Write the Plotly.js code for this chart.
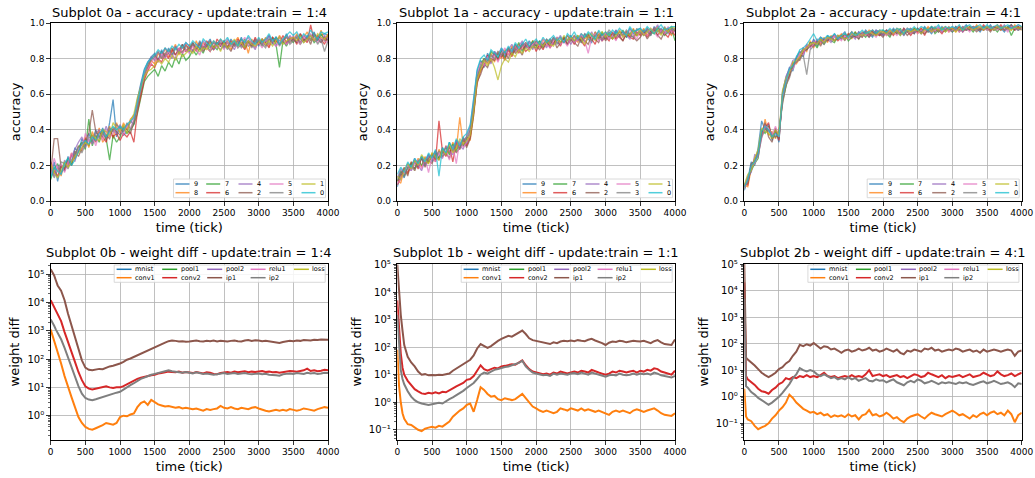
<!DOCTYPE html>
<html>
<head>
<meta charset="utf-8">
<script src="https://cdn.plot.ly/plotly-3.0.1.min.js"></script>
<style>html,body{margin:0;padding:0;background:#fff}#chart{width:1035px;height:478px}</style>
</head>
<body>
<div id="chart"></div>
<script>
// ---------------- DATA ----------------
const TICKS_TOP = [0,50,100,150,200,250,300,350,400,450,500,550,600,650,700,750,800,850,900,950,1000,1050,1100,1150,1200,1250,1300,1350,1400,1450,1500,1550,1600,1650,1700,1750,1800,1850,1900,1950,2000,2050,2100,2150,2200,2250,2300,2350,2400,2450,2500,2550,2600,2650,2700,2750,2800,2850,2900,2950,3000,3050,3100,3150,3200,3250,3300,3350,3400,3450,3500,3550,3600,3650,3700,3750,3800,3850,3900,3950,4000];
const TICKS_BOTTOM = [0,25,50,75,100,150,200,250,300,350,400,450,500,550,600,650,700,750,800,850,900,950,1000,1050,1100,1150,1200,1250,1300,1350,1400,1450,1500,1550,1600,1650,1700,1750,1800,1850,1900,1950,2000,2050,2100,2150,2200,2250,2300,2350,2400,2450,2500,2550,2600,2650,2700,2750,2800,2850,2900,2950,3000,3050,3100,3150,3200,3250,3300,3350,3400,3450,3500,3550,3600,3650,3700,3750,3800,3850,3900,3950,4000];
const X_TICK_LABELS = [0,500,1000,1500,2000,2500,3000,3500,4000];
const ACC_TICK_LABELS = [0,0.2,0.4,0.6,0.8,1.0];
const DIGITS = ['9','8','7','6','4','2','5','3','1','0'];
const LAYERS = ['mnist','conv1','pool1','conv2','pool2','ip1','relu1','ip2','loss'];
const TITLES_TOP = ['Subplot 0a - accuracy - update:train = 1:4','Subplot 1a - accuracy - update:train = 1:1','Subplot 2a - accuracy - update:train = 4:1'];
const TITLES_BOTTOM = ['Subplot 0b - weight diff - update:train = 1:4','Subplot 1b - weight diff - update:train = 1:1','Subplot 2b - weight diff - update:train = 4:1'];

// Subplot 0a accuracy (update:train = 1:4)
const acc0a_9 = [0.14,0.22,0.11,0.20,0.17,0.25,0.21,0.30,0.27,0.35,
0.31,0.38,0.33,0.40,0.35,0.41,0.34,0.44,0.57,0.36,
0.42,0.37,0.39,0.45,0.43,0.57,0.66,0.74,0.78,0.81,
0.83,0.79,0.85,0.80,0.86,0.82,0.87,0.83,0.88,0.85,
0.84,0.89,0.85,0.90,0.86,0.88,0.91,0.85,0.89,0.87,
0.90,0.86,0.91,0.88,0.87,0.92,0.86,0.90,0.88,0.91,
0.87,0.91,0.89,0.93,0.88,0.92,0.90,0.89,0.94,0.90,
0.92,0.89,0.94,0.90,0.93,0.91,0.95,0.90,0.93,0.94,
0.93];
const acc0a_8 = [0.20,0.15,0.19,0.14,0.22,0.19,0.27,0.23,0.31,0.28,
0.36,0.30,0.39,0.34,0.41,0.33,0.36,0.42,0.35,0.44,
0.38,0.44,0.40,0.46,0.48,0.52,0.61,0.69,0.74,0.79,
0.77,0.83,0.80,0.86,0.81,0.84,0.88,0.82,0.87,0.84,
0.88,0.84,0.90,0.85,0.89,0.86,0.84,0.90,0.87,0.91,
0.87,0.90,0.85,0.89,0.92,0.87,0.90,0.83,0.91,0.88,
0.91,0.88,0.92,0.87,0.91,0.89,0.93,0.90,0.88,0.92,
0.90,0.94,0.89,0.92,0.95,0.90,0.93,0.91,0.96,0.90,
0.94];
const acc0a_7 = [0.12,0.18,0.21,0.16,0.19,0.24,0.20,0.26,0.30,0.33,
0.29,0.46,0.31,0.37,0.33,0.39,0.35,0.23,0.37,0.33,
0.36,0.41,0.38,0.40,0.43,0.49,0.58,0.67,0.70,0.72,
0.74,0.70,0.76,0.73,0.78,0.75,0.81,0.77,0.83,0.79,
0.81,0.85,0.82,0.86,0.83,0.88,0.84,0.87,0.85,0.89,
0.86,0.89,0.87,0.90,0.86,0.88,0.91,0.87,0.89,0.86,
0.90,0.87,0.91,0.88,0.92,0.88,0.75,0.90,0.87,0.91,
0.89,0.92,0.88,0.91,0.90,0.93,0.89,0.91,0.94,0.90,
0.91];
const acc0a_6 = [0.22,0.17,0.14,0.20,0.18,0.21,0.26,0.24,0.28,0.32,
0.35,0.31,0.37,0.33,0.39,0.36,0.33,0.40,0.36,0.38,
0.34,0.38,0.36,0.39,0.33,0.50,0.60,0.68,0.73,0.77,
0.75,0.80,0.78,0.83,0.80,0.85,0.82,0.86,0.83,0.88,
0.85,0.88,0.84,0.89,0.86,0.90,0.87,0.85,0.91,0.88,
0.89,0.86,0.90,0.87,0.91,0.88,0.85,0.90,0.87,0.92,
0.88,0.91,0.89,0.86,0.92,0.90,0.88,0.93,0.89,0.91,
0.92,0.88,0.94,0.91,0.89,0.99,0.90,0.93,0.91,0.88,
0.93];
const acc0a_4 = [0.18,0.14,0.20,0.15,0.23,0.20,0.25,0.29,0.33,0.36,
0.30,0.35,0.32,0.38,0.40,0.36,0.42,0.37,0.40,0.38,
0.43,0.39,0.42,0.44,0.47,0.56,0.65,0.72,0.77,0.81,
0.79,0.84,0.81,0.86,0.83,0.80,0.87,0.84,0.86,0.89,
0.87,0.84,0.88,0.86,0.90,0.87,0.89,0.85,0.88,0.90,
0.86,0.91,0.88,0.85,0.90,0.87,0.89,0.92,0.88,0.85,
0.91,0.88,0.90,0.93,0.89,0.87,0.92,0.90,0.88,0.93,
0.90,0.92,0.89,0.93,0.91,0.94,0.90,0.92,0.89,0.93,
0.91];
const acc0a_2 = [0.16,0.35,0.35,0.19,0.17,0.23,0.20,0.28,0.25,0.30,
0.34,0.38,0.51,0.39,0.36,0.40,0.37,0.35,0.41,0.39,
0.37,0.42,0.40,0.38,0.44,0.53,0.62,0.70,0.75,0.80,
0.82,0.78,0.84,0.81,0.83,0.86,0.82,0.85,0.88,0.84,
0.86,0.89,0.85,0.88,0.84,0.87,0.90,0.86,0.89,0.87,
0.90,0.87,0.84,0.89,0.88,0.91,0.86,0.89,0.87,0.90,
0.88,0.90,0.87,0.91,0.89,0.92,0.88,0.90,0.92,0.89,
0.91,0.89,0.93,0.90,0.92,0.88,0.94,0.91,0.89,0.92,
0.90];
const acc0a_5 = [0.15,0.24,0.18,0.21,0.16,0.22,0.27,0.22,0.30,0.29,
0.38,0.33,0.36,0.31,0.38,0.34,0.40,0.36,0.38,0.42,
0.40,0.37,0.43,0.41,0.46,0.55,0.63,0.70,0.74,0.77,
0.81,0.78,0.83,0.80,0.84,0.82,0.80,0.86,0.83,0.85,
0.83,0.87,0.85,0.82,0.88,0.86,0.84,0.89,0.86,0.88,
0.85,0.89,0.87,0.90,0.86,0.89,0.92,0.87,0.90,0.86,
0.89,0.86,0.91,0.88,0.90,0.87,0.89,0.91,0.88,0.90,
0.93,0.90,0.88,0.92,0.90,0.93,0.91,0.89,0.92,0.90,
0.89];
const acc0a_3 = [0.19,0.13,0.17,0.22,0.21,0.18,0.23,0.26,0.31,0.27,
0.32,0.36,0.34,0.39,0.36,0.38,0.35,0.41,0.39,0.43,
0.41,0.39,0.44,0.40,0.45,0.52,0.64,0.71,0.77,0.79,
0.81,0.84,0.80,0.83,0.85,0.82,0.86,0.83,0.84,0.87,
0.85,0.88,0.86,0.89,0.85,0.88,0.86,0.89,0.87,0.85,
0.88,0.85,0.89,0.87,0.90,0.86,0.88,0.90,0.86,0.89,
0.90,0.88,0.86,0.91,0.89,0.92,0.87,0.90,0.93,0.88,
0.90,0.93,0.91,0.89,0.92,0.90,0.93,0.88,0.91,0.84,
0.90];
const acc0a_1 = [0.21,0.16,0.13,0.17,0.22,0.19,0.22,0.25,0.27,0.30,
0.33,0.31,0.37,0.35,0.34,0.40,0.39,0.36,0.44,0.41,
0.39,0.43,0.38,0.45,0.49,0.58,0.64,0.70,0.73,0.74,
0.76,0.79,0.77,0.80,0.78,0.82,0.79,0.84,0.81,0.83,
0.85,0.83,0.87,0.84,0.86,0.85,0.89,0.86,0.88,0.84,
0.89,0.86,0.88,0.91,0.87,0.89,0.86,0.90,0.88,0.87,
0.89,0.91,0.88,0.90,0.87,0.90,0.92,0.88,0.90,0.91,
0.92,0.90,0.93,0.89,0.91,0.93,0.90,0.94,0.92,0.91,
0.93];
const acc0a_0 = [0.13,0.19,0.17,0.15,0.21,0.24,0.20,0.23,0.28,0.32,
0.34,0.32,0.36,0.34,0.38,0.40,0.36,0.39,0.42,0.40,
0.42,0.40,0.43,0.45,0.47,0.55,0.64,0.73,0.78,0.80,
0.82,0.85,0.83,0.86,0.84,0.87,0.85,0.88,0.86,0.89,
0.87,0.90,0.88,0.86,0.91,0.89,0.87,0.90,0.88,0.91,
0.89,0.92,0.88,0.90,0.87,0.91,0.89,0.93,0.90,0.88,
0.92,0.89,0.91,0.94,0.90,0.92,0.88,0.91,0.93,0.95,
0.93,0.95,0.91,0.94,0.92,0.96,0.93,0.91,0.95,0.94,
0.95];

// Subplot 1a accuracy (update:train = 1:1)
const acc1a_9 = [0.08,0.16,0.13,0.20,0.17,0.22,0.19,0.24,0.20,0.26,
0.22,0.27,0.24,0.30,0.26,0.33,0.28,0.34,0.30,0.36,
0.32,0.40,0.55,0.73,0.79,0.75,0.83,0.79,0.84,0.80,
0.85,0.81,0.86,0.83,0.88,0.84,0.89,0.86,0.90,0.87,
0.86,0.90,0.87,0.91,0.88,0.92,0.89,0.88,0.92,0.90,
0.93,0.89,0.92,0.90,0.94,0.91,0.89,0.95,0.92,0.94,
0.91,0.95,0.92,0.96,0.93,0.95,0.92,0.97,0.94,0.96,
0.97,0.94,0.96,0.93,0.98,0.95,0.97,0.94,0.96,0.98,
0.95];
const acc1a_8 = [0.12,0.10,0.18,0.15,0.22,0.17,0.24,0.19,0.25,0.21,
0.27,0.23,0.29,0.25,0.31,0.27,0.33,0.29,0.47,0.31,
0.36,0.34,0.49,0.68,0.74,0.80,0.77,0.83,0.78,0.84,
0.80,0.85,0.82,0.87,0.84,0.88,0.85,0.89,0.86,0.90,
0.89,0.86,0.91,0.87,0.90,0.88,0.91,0.92,0.89,0.93,
0.90,0.93,0.89,0.94,0.91,0.93,0.90,0.95,0.92,0.91,
0.95,0.92,0.94,0.91,0.96,0.93,0.95,0.92,0.97,0.93,
0.94,0.97,0.93,0.96,0.95,0.98,0.94,0.97,0.95,0.93,
0.97];
const acc1a_7 = [0.11,0.17,0.14,0.19,0.21,0.18,0.23,0.20,0.24,0.22,
0.25,0.28,0.24,0.27,0.30,0.26,0.32,0.28,0.33,0.31,
0.35,0.38,0.51,0.69,0.77,0.80,0.79,0.84,0.82,0.80,
0.84,0.80,0.86,0.82,0.85,0.89,0.84,0.88,0.85,0.90,
0.87,0.90,0.86,0.89,0.91,0.88,0.92,0.89,0.91,0.88,
0.92,0.90,0.93,0.89,0.92,0.94,0.90,0.93,0.91,0.95,
0.92,0.94,0.91,0.95,0.93,0.96,0.92,0.94,0.96,0.93,
0.96,0.93,0.97,0.95,0.94,0.97,0.96,0.93,0.95,0.97,
0.90];
const acc1a_6 = [0.09,0.13,0.18,0.16,0.20,0.23,0.18,0.25,0.21,0.24,
0.26,0.22,0.45,0.28,0.25,0.31,0.22,0.33,0.29,0.35,
0.31,0.36,0.50,0.66,0.73,0.76,0.82,0.78,0.83,0.79,
0.83,0.79,0.85,0.81,0.87,0.83,0.88,0.84,0.86,0.89,
0.84,0.88,0.85,0.90,0.86,0.89,0.91,0.87,0.92,0.88,
0.91,0.88,0.92,0.90,0.87,0.93,0.91,0.88,0.94,0.90,
0.92,0.90,0.95,0.91,0.93,0.90,0.94,0.92,0.91,0.95,
0.93,0.96,0.92,0.95,0.97,0.93,0.96,0.94,0.92,0.96,
0.93];
const acc1a_4 = [0.13,0.18,0.15,0.21,0.18,0.24,0.20,0.17,0.23,0.26,
0.23,0.28,0.26,0.24,0.31,0.28,0.26,0.34,0.31,0.29,
0.37,0.42,0.57,0.72,0.75,0.79,0.81,0.77,0.84,0.82,
0.86,0.82,0.85,0.88,0.84,0.87,0.90,0.86,0.89,0.85,
0.90,0.87,0.89,0.86,0.91,0.88,0.90,0.93,0.89,0.91,
0.88,0.92,0.90,0.93,0.89,0.92,0.95,0.91,0.93,0.90,
0.94,0.91,0.93,0.96,0.92,0.95,0.93,0.91,0.96,0.94,
0.95,0.93,0.97,0.94,0.96,0.99,0.95,0.97,0.94,0.96,
0.97];
const acc1a_2 = [0.11,0.15,0.19,0.14,0.22,0.18,0.21,0.24,0.19,0.23,
0.21,0.26,0.23,0.29,0.27,0.24,0.31,0.27,0.30,0.34,
0.30,0.35,0.48,0.67,0.71,0.77,0.75,0.80,0.79,0.83,
0.81,0.84,0.80,0.86,0.83,0.85,0.82,0.88,0.86,0.89,
0.87,0.85,0.88,0.90,0.87,0.91,0.86,0.89,0.92,0.88,
0.91,0.89,0.87,0.92,0.90,0.88,0.93,0.91,0.89,0.94,
0.90,0.93,0.91,0.94,0.92,0.90,0.95,0.93,0.92,0.90,
0.92,0.95,0.91,0.94,0.96,0.93,0.91,0.95,0.97,0.94,
0.96];
const acc1a_5 = [0.10,0.12,0.16,0.20,0.17,0.21,0.23,0.18,0.24,0.16,
0.25,0.22,0.27,0.24,0.29,0.23,0.31,0.21,0.34,0.30,
0.33,0.39,0.54,0.71,0.78,0.76,0.81,0.79,0.82,0.78,
0.83,0.86,0.82,0.85,0.87,0.84,0.86,0.89,0.85,0.88,
0.89,0.87,0.91,0.88,0.86,0.90,0.92,0.88,0.90,0.87,
0.92,0.89,0.91,0.94,0.90,0.83,0.92,0.94,0.90,0.92,
0.94,0.91,0.93,0.90,0.95,0.92,0.94,0.96,0.93,0.91,
0.96,0.94,0.93,0.97,0.95,0.92,0.96,0.94,0.98,0.95,
0.95];
const acc1a_3 = [0.12,0.16,0.14,0.18,0.20,0.17,0.22,0.25,0.20,0.24,
0.26,0.24,0.28,0.25,0.27,0.30,0.28,0.32,0.29,0.34,
0.36,0.40,0.53,0.70,0.75,0.79,0.78,0.82,0.80,0.84,
0.82,0.84,0.86,0.83,0.88,0.85,0.87,0.89,0.87,0.86,
0.90,0.88,0.87,0.91,0.89,0.92,0.88,0.91,0.89,0.93,
0.90,0.93,0.91,0.89,0.94,0.92,0.90,0.93,0.95,0.91,
0.93,0.96,0.94,0.92,0.95,0.93,0.96,0.94,0.92,0.97,
0.94,0.96,0.95,0.93,0.97,0.96,0.94,0.98,0.95,0.97,
0.96];
const acc1a_1 = [0.14,0.12,0.17,0.21,0.18,0.23,0.20,0.26,0.23,0.21,
0.27,0.25,0.23,0.29,0.26,0.32,0.27,0.30,0.35,0.32,
0.34,0.37,0.50,0.68,0.74,0.79,0.76,0.80,0.75,0.68,
0.76,0.80,0.78,0.83,0.81,0.85,0.83,0.86,0.84,0.87,
0.86,0.89,0.87,0.90,0.88,0.87,0.91,0.89,0.93,0.90,
0.92,0.90,0.93,0.91,0.88,0.92,0.94,0.90,0.93,0.95,
0.92,0.94,0.91,0.93,0.95,0.92,0.94,0.93,0.96,0.93,
0.96,0.93,0.95,0.97,0.94,0.96,0.93,0.97,0.95,0.98,
0.97];
const acc1a_0 = [0.15,0.19,0.16,0.22,0.19,0.24,0.21,0.25,0.22,0.27,
0.24,0.29,0.14,0.30,0.27,0.33,0.29,0.35,0.31,0.36,
0.38,0.43,0.58,0.74,0.80,0.82,0.79,0.85,0.83,0.81,
0.86,0.83,0.87,0.84,0.89,0.86,0.88,0.91,0.87,0.89,
0.91,0.88,0.92,0.89,0.91,0.93,0.90,0.92,0.89,0.94,
0.92,0.95,0.91,0.94,0.92,0.95,0.93,0.91,0.96,0.93,
0.95,0.93,0.96,0.94,0.97,0.95,0.93,0.98,0.95,0.96,
0.97,0.95,0.98,0.96,0.94,0.97,0.99,0.96,0.97,0.98,
0.98];

// Subplot 2a accuracy (update:train = 4:1)
const acc2a_9 = [0.06,0.12,0.22,0.20,0.30,0.45,0.40,0.43,0.34,0.40,
0.33,0.61,0.69,0.75,0.73,0.81,0.84,0.81,0.88,0.86,
0.91,0.87,0.92,0.89,0.93,0.90,0.94,0.91,0.93,0.95,
0.91,0.94,0.92,0.95,0.93,0.96,0.94,0.92,0.96,0.95,
0.93,0.96,0.94,0.97,0.95,0.93,0.97,0.95,0.96,0.94,
0.97,0.95,0.98,0.96,0.94,0.97,0.95,0.98,0.96,0.97,
0.95,0.98,0.96,0.97,0.99,0.96,0.98,0.97,0.95,0.98,
0.97,0.99,0.96,0.98,0.97,0.95,0.98,0.99,0.97,0.96,
0.98];
const acc2a_8 = [0.09,0.08,0.18,0.24,0.28,0.36,0.46,0.37,0.39,0.35,
0.40,0.55,0.65,0.70,0.78,0.77,0.80,0.86,0.84,0.90,
0.86,0.91,0.88,0.92,0.89,0.93,0.90,0.92,0.94,0.91,
0.94,0.91,0.95,0.92,0.94,0.93,0.96,0.95,0.93,0.96,
0.95,0.93,0.96,0.94,0.97,0.96,0.94,0.97,0.95,0.97,
0.94,0.97,0.95,0.98,0.96,0.97,0.95,0.97,0.98,0.95,
0.97,0.95,0.98,0.96,0.97,0.98,0.96,0.99,0.97,0.96,
0.98,0.96,0.97,0.99,0.96,0.98,0.97,0.96,0.99,0.97,
0.96];
const acc2a_7 = [0.07,0.13,0.17,0.21,0.24,0.40,0.38,0.42,0.37,0.36,
0.38,0.56,0.64,0.73,0.75,0.80,0.83,0.85,0.85,0.89,
0.89,0.86,0.91,0.88,0.92,0.90,0.89,0.93,0.91,0.94,
0.90,0.92,0.95,0.91,0.94,0.92,0.95,0.93,0.95,0.93,
0.96,0.94,0.92,0.96,0.94,0.97,0.93,0.96,0.94,0.97,
0.96,0.94,0.97,0.95,0.98,0.94,0.96,0.97,0.95,0.97,
0.95,0.97,0.96,0.98,0.96,0.97,0.95,0.98,0.96,0.98,
0.96,0.98,0.97,0.95,0.98,0.96,0.98,0.93,0.97,0.98,
0.96];
const acc2a_6 = [0.10,0.09,0.20,0.23,0.27,0.37,0.41,0.44,0.35,0.39,
0.34,0.59,0.68,0.70,0.77,0.78,0.81,0.83,0.87,0.87,
0.87,0.90,0.89,0.91,0.90,0.92,0.93,0.90,0.92,0.93,
0.93,0.95,0.92,0.94,0.92,0.95,0.93,0.96,0.94,0.93,
0.94,0.96,0.95,0.93,0.96,0.94,0.97,0.95,0.93,0.96,
0.95,0.97,0.93,0.97,0.95,0.97,0.96,0.94,0.97,0.96,
0.97,0.96,0.98,0.95,0.97,0.96,0.98,0.97,0.96,0.99,
0.97,0.96,0.98,0.97,0.99,0.96,0.97,0.98,0.96,0.98,
0.97];
const acc2a_4 = [0.08,0.14,0.16,0.26,0.25,0.39,0.43,0.39,0.38,0.37,
0.37,0.60,0.70,0.74,0.79,0.80,0.82,0.86,0.85,0.88,
0.90,0.88,0.92,0.90,0.91,0.89,0.92,0.93,0.91,0.92,
0.92,0.93,0.91,0.95,0.93,0.95,0.92,0.94,0.96,0.94,
0.93,0.95,0.96,0.94,0.96,0.95,0.93,0.96,0.97,0.95,
0.96,0.94,0.97,0.95,0.97,0.96,0.98,0.95,0.97,0.96,
0.98,0.96,0.97,0.95,0.98,0.97,0.96,0.98,0.97,0.96,
0.98,0.97,0.96,0.98,0.97,0.99,0.96,0.98,0.97,0.99,
0.98];
const acc2a_2 = [0.09,0.10,0.21,0.22,0.27,0.38,0.44,0.36,0.33,0.41,
0.35,0.57,0.66,0.71,0.75,0.80,0.79,0.84,0.85,0.87,
0.88,0.90,0.87,0.91,0.90,0.92,0.90,0.91,0.93,0.90,
0.94,0.92,0.93,0.91,0.95,0.94,0.92,0.95,0.93,0.94,
0.92,0.95,0.93,0.96,0.94,0.95,0.96,0.93,0.95,0.94,
0.97,0.95,0.94,0.96,0.98,0.95,0.97,0.95,0.96,0.98,
0.96,0.98,0.95,0.97,0.96,0.98,0.97,0.95,0.97,0.96,
0.97,0.95,0.98,0.97,0.96,0.98,0.97,0.99,0.96,0.97,
0.98];
const acc2a_5 = [0.07,0.12,0.19,0.21,0.26,0.35,0.42,0.41,0.37,0.42,
0.36,0.58,0.66,0.73,0.74,0.79,0.83,0.82,0.88,0.86,
0.88,0.91,0.89,0.90,0.92,0.90,0.93,0.92,0.90,0.93,
0.91,0.94,0.93,0.92,0.94,0.93,0.95,0.94,0.92,0.95,
0.95,0.93,0.96,0.95,0.93,0.96,0.95,0.97,0.94,0.96,
0.94,0.96,0.95,0.97,0.95,0.96,0.97,0.95,0.97,0.95,
0.96,0.97,0.95,0.98,0.97,0.95,0.98,0.96,0.98,0.97,
0.96,0.98,0.97,0.96,0.98,0.97,0.95,0.98,0.97,0.96,
0.97];
const acc2a_3 = [0.08,0.11,0.18,0.23,0.25,0.36,0.40,0.40,0.37,0.36,
0.39,0.54,0.65,0.69,0.76,0.78,0.80,0.82,0.71,0.85,
0.87,0.89,0.90,0.88,0.91,0.92,0.90,0.92,0.93,0.91,
0.93,0.92,0.94,0.93,0.92,0.95,0.94,0.93,0.95,0.95,
0.94,0.95,0.94,0.96,0.95,0.94,0.96,0.95,0.97,0.95,
0.96,0.95,0.97,0.95,0.96,0.98,0.95,0.97,0.96,0.97,
0.95,0.97,0.96,0.98,0.96,0.97,0.98,0.96,0.97,0.98,
0.97,0.98,0.96,0.97,0.98,0.96,0.98,0.97,0.98,0.96,
0.97];
const acc2a_1 = [0.09,0.15,0.17,0.24,0.29,0.41,0.39,0.38,0.35,0.40,
0.37,0.62,0.69,0.72,0.78,0.79,0.81,0.85,0.86,0.88,
0.89,0.88,0.91,0.89,0.92,0.91,0.90,0.93,0.92,0.91,
0.92,0.94,0.93,0.94,0.93,0.94,0.95,0.94,0.93,0.95,
0.95,0.94,0.96,0.94,0.96,0.93,0.95,0.96,0.95,0.96,
0.96,0.94,0.96,0.97,0.95,0.97,0.96,0.97,0.95,0.97,
0.97,0.95,0.97,0.96,0.98,0.97,0.96,0.97,0.98,0.96,
0.98,0.97,0.96,0.98,0.97,0.98,0.97,0.96,0.98,0.97,
0.98];
const acc2a_0 = [0.08,0.12,0.20,0.22,0.27,0.39,0.42,0.40,0.36,0.38,
0.36,0.59,0.67,0.74,0.76,0.81,0.85,0.86,0.88,0.91,
0.94,0.90,0.92,0.91,0.93,0.92,0.94,0.91,0.93,0.94,
0.92,0.95,0.93,0.94,0.96,0.94,0.95,0.96,0.94,0.96,
0.96,0.95,0.97,0.95,0.97,0.96,0.94,0.97,0.96,0.98,
0.96,0.98,0.97,0.96,0.98,0.97,0.99,0.96,0.98,0.97,
0.98,0.97,0.99,0.96,0.98,0.99,0.97,0.98,0.99,0.97,
0.99,0.97,0.98,0.99,0.97,0.98,0.99,0.97,0.98,0.99,
0.98];

// Subplot 0b weight diff (update:train = 1:4)
const wd0b_conv1 = [1100,700,450,300,
180,70,25,10,4.5,2,0.9,0.55,0.4,0.34,
0.32,0.36,0.4,0.46,0.55,0.5,0.48,0.55,0.9,1.0,
0.95,1.1,1.2,2.0,2.8,3.2,2.4,3.6,2.9,2.5,
2.3,2.1,2.2,2.0,1.9,2.0,1.8,1.9,1.8,1.7,
1.8,1.6,1.5,1.7,1.6,1.7,1.8,2.2,1.9,1.8,
2.0,1.8,1.7,1.9,1.8,1.7,1.9,2.0,1.8,1.6,
1.5,1.4,1.5,1.6,1.5,1.6,1.5,1.7,1.6,1.5,
1.6,1.8,1.7,1.6,1.5,1.7,1.8,2.0,1.9];
const wd0b_conv2 = [12000,9000,6500,5000,
3800,2200,900,380,170,80,35,18,11,9,
8.5,9,9.5,10,11,10,9.5,10,10,11,
13,15,17,20,22,24,25,27,28,31,
32,34,36,35,34,36,33,35,34,32,
35,33,31,34,33,30,29,32,34,35,
33,36,34,35,37,34,36,35,37,38,
35,36,34,35,33,35,36,38,37,36,
38,40,46,38,40,37,39,42,40];
const wd0b_ip1 = [150000,120000,90000,60000,
40000,26000,12000,4000,1500,600,220,90,50,42,
40,42,45,44,50,55,58,62,70,80,
95,105,120,135,150,170,200,230,270,300,
330,380,430,450,440,420,430,410,420,440,
450,430,420,440,430,450,420,440,430,420,
440,450,430,420,450,470,440,460,450,430,
440,420,410,380,370,400,420,440,430,450,
440,470,460,450,480,470,490,500,480];
const wd0b_ip2 = [2500,2000,1500,1100,
850,500,250,110,50,22,11,6,4.2,3.7,
3.5,3.8,4.2,4.5,5,5.5,6,6.5,7,8.5,
10,12,14,17,20,22,25,28,30,32,
34,37,40,37,35,34,33,35,33,31,
34,32,30,31,29,28,29,31,32,30,
31,32,30,31,32,30,29,30,31,29,
30,28,28,27,26,29,30,31,30,32,
31,30,33,31,32,30,31,33,32];

// Subplot 1b weight diff (update:train = 1:1)
const wd1b_conv1 = [80,4,1,0.4,
0.25,0.16,0.15,0.12,0.1,0.09,0.11,0.12,0.13,0.12,
0.14,0.13,0.16,0.2,0.3,0.4,0.5,0.6,0.8,0.9,
0.45,1.2,3.5,2.8,2.0,1.6,1.7,1.3,1.2,1.4,
1.3,1.2,1.3,1.6,2.0,1.4,1.0,0.7,0.6,0.5,
0.45,0.5,0.45,0.4,0.45,0.6,0.55,0.5,0.6,0.55,
0.5,0.6,0.5,0.55,0.5,0.45,0.5,0.45,0.4,0.35,
0.45,0.5,0.45,0.5,0.45,0.4,0.5,0.55,0.5,0.45,
0.5,0.55,0.6,0.5,0.4,0.35,0.33,0.32,0.4];
const wd1b_conv2 = [5000,400,60,18,
10,6,4.3,3,2.5,2.1,2.0,2.2,2.1,2.3,
2.1,2.4,2.3,2.8,3.2,3.8,4.5,5,6.5,7,
9,14,22,16,14,16,18,17,20,21,
22,24,23,28,33,22,16,13,12,11,
10.5,11,10,12,11,13,12,11,12,13,
12,14,13,12,15,13,12,11,10,11,
13,12,14,13,12,13,14,12,14,13,
15,14,17,16,13,12,11,10,14];
const wd1b_ip1 = [100000,8000,1500,400,
120,45,28,20,13,10,10.5,9.5,9.8,9.5,
10,9.7,10.5,11,14,17,20,25,30,35,
50,90,130,110,95,110,140,170,200,230,
260,240,280,330,400,300,210,180,170,160,
150,140,130,150,140,160,170,165,175,165,
180,170,165,185,200,175,160,140,120,145,
160,155,170,165,150,160,170,165,160,170,
155,140,165,180,150,130,125,120,190];
const wd1b_ip2 = [1500,100,15,7,
4.5,2.5,1.6,1.2,1.0,0.9,0.85,0.8,0.85,0.9,
0.95,0.9,1.1,1.3,1.5,1.8,2.1,2.6,3.3,4,
5,7,10,12,11,13,15,16,18,19,
20,22,24,27,32,20,15,12,11,10,
9.5,10,9,11,10,11,10.5,10,11,11.5,
10.5,12,11,10,12,11,10,9,8.5,9.5,
10,9.5,11,10,9.5,10,11,10,11,10.5,
11,10,12,11,9.5,9,8.5,8,9];

// Subplot 2b weight diff (update:train = 4:1)
const wd2b_conv1 = [2,0.18,0.14,0.13,
0.12,0.08,0.06,0.07,0.08,0.1,0.15,0.2,0.3,0.4,
0.6,1.2,0.9,0.6,0.45,0.35,0.3,0.25,0.27,0.22,
0.25,0.2,0.22,0.17,0.2,0.18,0.2,0.17,0.22,0.18,
0.2,0.14,0.2,0.22,0.32,0.2,0.22,0.18,0.2,0.25,
0.2,0.15,0.17,0.13,0.11,0.15,0.18,0.2,0.22,0.18,
0.15,0.2,0.25,0.22,0.2,0.18,0.22,0.25,0.3,0.25,
0.2,0.22,0.18,0.15,0.2,0.17,0.22,0.25,0.2,0.25,
0.28,0.22,0.25,0.2,0.3,0.22,0.11,0.2,0.25];
const wd2b_conv2 = [20000,6,4.5,4,
3.5,2.8,2,1.6,1.5,1.3,1.8,2.2,3,3.5,
5,4.5,5.5,5,6,5.5,6.5,5.5,6,5.5,
6.5,8,6,5.5,6,5,5.5,6,5.5,6.5,
5.5,6,5.5,7,10,6,6.5,7,6,6.5,
5.5,6,6.5,5.5,6,5,6,7,6.5,5.5,
6,8,7,6,5.5,6.5,5,6,5.5,6,
6.5,5.5,6,7,5.5,6,6.5,8,7,6,
6.5,9,7,6,6.5,7.5,6,7,8];
const wd2b_ip1 = [100000,30,25,22,
20,15,11,8,6.5,5.5,6.5,8,11,13,
18,22,35,50,90,80,95,85,105,80,
65,80,75,60,65,55,45,55,60,50,
55,65,55,60,70,55,60,50,55,65,
58,50,60,45,40,55,50,60,55,50,
65,60,70,55,60,50,55,60,55,65,
60,50,55,60,50,55,45,60,50,55,
60,55,50,55,60,55,35,50,55];
const wd2b_ip2 = [5000,2.5,2.2,1.8,
1.5,1.2,0.9,0.75,0.6,0.5,0.6,0.75,1.0,1.4,
2,3,5,7,12,10,9,10,9,7,
6,7,6,5,5.5,4.5,5,4.5,5.5,4.5,
5,4,4.5,5,4,3.8,4.5,4,4.2,3.5,
4,4.5,3.5,3,2.7,3.5,4,3.5,4.5,4,
3.2,3.5,4,3.5,3,3.5,3.2,3.5,3.3,3,
3.5,3.2,3.5,3,2.8,3.2,3.5,3.8,3.2,3.5,
4,3.5,3,3.2,3.5,3,2.3,3.2,3];

// series groupings (order = DIGITS / LAYERS)
const ACC = [
  [acc0a_9,acc0a_8,acc0a_7,acc0a_6,acc0a_4,acc0a_2,acc0a_5,acc0a_3,acc0a_1,acc0a_0],
  [acc1a_9,acc1a_8,acc1a_7,acc1a_6,acc1a_4,acc1a_2,acc1a_5,acc1a_3,acc1a_1,acc1a_0],
  [acc2a_9,acc2a_8,acc2a_7,acc2a_6,acc2a_4,acc2a_2,acc2a_5,acc2a_3,acc2a_1,acc2a_0]
];
// layers without weights (mnist, pool1, pool2, relu1, loss) have no weight diff
const WD = [
  {conv1:wd0b_conv1, conv2:wd0b_conv2, ip1:wd0b_ip1, ip2:wd0b_ip2},
  {conv1:wd1b_conv1, conv2:wd1b_conv2, ip1:wd1b_ip1, ip2:wd1b_ip2},
  {conv1:wd2b_conv1, conv2:wd2b_conv2, ip1:wd2b_ip1, ip2:wd2b_ip2}
];

// ---------------- STYLE / LAYOUT ----------------
const COLORS = ['#1f77b4','#ff7f0e','#2ca02c','#d62728','#9467bd','#8c564b','#e377c2','#7f7f7f','#bcbd22','#17becf'];
const W = 1035, H = 478;
const COLS = [[50.7,328],[397.3,675],[744.3,1021.7]];
const TOPROW = [23,201], BOTROW = [264,440];
const LOGRANGES = [[-0.86,5.36],[-1.37,5.02],[-1.63,5.0]];
const FONT = 'DejaVu Sans, Liberation Sans, sans-serif';
const px = v => v / W, py = v => 1 - v / H;

const traces = [];
const layout = {
  width: W, height: H, margin: {l:0, r:0, t:0, b:0},
  paper_bgcolor: '#fff', plot_bgcolor: '#fff',
  font: {family: FONT, color: '#000', size: 9},
  showlegend: false, shapes: [], annotations: []
};

function baseAxis() {
  return {
    showline: true, linecolor: '#000', linewidth: 1, mirror: true,
    ticks: 'outside', ticklen: 3.5, tickwidth: 0.8, tickcolor: '#000',
    showgrid: true, gridcolor: '#b0b0b0', gridwidth: 0.8, zeroline: false,
    tickfont: {size: 9, family: FONT, color: '#000'}, fixedrange: true
  };
}
const SUPS = {'-':'\u207B','0':'\u2070','1':'\u00B9','2':'\u00B2','3':'\u00B3','4':'\u2074','5':'\u2075','6':'\u2076','7':'\u2077','8':'\u2078','9':'\u2079'};
const sup = n => '10' + String(n).split('').map(ch => SUPS[ch]).join('');

for (let c = 0; c < 3; c++) {
  const ti = c + 1, bi = c + 4;
  const sfx = ti === 1 ? '' : String(ti);
  const xt = 'xaxis' + sfx, yt = 'yaxis' + sfx;
  const xb = 'xaxis' + bi, yb = 'yaxis' + bi;
  const xdom = [px(COLS[c][0]), px(COLS[c][1])];
  // top row axes
  layout[xt] = Object.assign(baseAxis(), {domain: xdom, range: [0,4000], anchor: 'y' + sfx,
    tickmode: 'array', tickvals: X_TICK_LABELS, ticktext: X_TICK_LABELS.map(String),
    title: {text: 'time (tick)', font: {size: 13, family: FONT}, standoff: 5}});
  layout[yt] = Object.assign(baseAxis(), {domain: [py(TOPROW[1]), py(TOPROW[0])], range: [0,1], anchor: 'x' + sfx,
    tickmode: 'array', tickvals: ACC_TICK_LABELS, ticktext: ACC_TICK_LABELS.map(v => v.toFixed(1)),
    title: {text: 'accuracy', font: {size: 13, family: FONT}, standoff: 6}});
  // bottom row axes
  const lr = LOGRANGES[c];
  const majors = [], majText = [], minors = [];
  for (let e = Math.ceil(lr[0]); e <= Math.floor(lr[1]); e++) { majors.push(Math.pow(10, e)); majText.push(sup(e)); }
  for (let e = Math.floor(lr[0]); e <= Math.ceil(lr[1]); e++) for (let m = 2; m <= 9; m++) {
    const v = m * Math.pow(10, e); const lv = Math.log10(v);
    if (lv > lr[0] && lv < lr[1]) minors.push(v);
  }
  layout[xb] = Object.assign(baseAxis(), {domain: xdom, range: [0,4000], anchor: 'y' + bi,
    tickmode: 'array', tickvals: X_TICK_LABELS, ticktext: X_TICK_LABELS.map(String),
    title: {text: 'time (tick)', font: {size: 13, family: FONT}, standoff: 5}});
  layout[yb] = Object.assign(baseAxis(), {domain: [py(BOTROW[1]), py(BOTROW[0])], type: 'log', range: lr, anchor: 'x' + bi,
    tickmode: 'array', tickvals: majors, ticktext: majText, tickfont: {size: 10, family: FONT, color: '#000'},
    minor: {tickmode: 'array', tickvals: minors, ticks: 'outside', ticklen: 2, tickwidth: 0.6, tickcolor: '#000', showgrid: false},
    title: {text: 'weight diff', font: {size: 13, family: FONT}, standoff: 4}});

  // accuracy traces
  ACC[c].forEach((ys, i) => traces.push({
    type: 'scatter', mode: 'lines', name: DIGITS[i], x: TICKS_TOP, y: ys,
    xaxis: 'x' + sfx, yaxis: 'y' + sfx,
    line: {color: COLORS[i], width: 1.3}, opacity: 0.72, hoverinfo: 'skip'
  }));
  // weight diff traces
  LAYERS.forEach((name, i) => {
    const ys = WD[c][name];
    traces.push({
      type: 'scatter', mode: 'lines', name: name, x: ys ? TICKS_BOTTOM : [], y: ys || [],
      xaxis: 'x' + bi, yaxis: 'y' + bi, line: {color: COLORS[i], width: 2}, hoverinfo: 'skip'
    });
  });

  // subplot titles
  const cx = (COLS[c][0] + COLS[c][1]) / 2;
  layout.annotations.push({xref: 'paper', yref: 'paper', x: px(cx), y: py(12.5), text: TITLES_TOP[c], showarrow: false,
    xanchor: 'center', yanchor: 'middle', font: {size: 13, family: FONT, color: '#000'}});
  layout.annotations.push({xref: 'paper', yref: 'paper', x: px(cx), y: py(252), text: TITLES_BOTTOM[c], showarrow: false,
    xanchor: 'center', yanchor: 'middle', font: {size: 13, family: FONT, color: '#000'}});

  // legends (drawn manually to match matplotlib's compact look)
  addLegend(DIGITS, COLORS, COLS[c][1] - 2.5, 179, 152, 18.7, [2, 32.7, 65, 96, 128], 14, 3.5, [5, 13.7], 0.75);
  addLegend(LAYERS, COLORS, COLS[c][1] - 2.8, 265, 211, 17.3, [2.4, 48, 93, 136.4, 179.7], 15, 2.3, [4.3, 12.7], 1);
}

function addLegend(names, colors, rightPx, topPx, w, h, colOff, lineLen, gap, rowY, op) {
  const left = rightPx - w;
  layout.shapes.push({type: 'rect', xref: 'paper', yref: 'paper', layer: 'above',
    x0: px(left), x1: px(rightPx), y0: py(topPx + h), y1: py(topPx),
    line: {color: '#d0d0d0', width: 0.8}, fillcolor: 'rgba(255,255,255,0.85)'});
  names.forEach((n, i) => {
    const col = Math.floor(i / 2), row = i % 2;
    const lx = left + colOff[col], ly = topPx + rowY[row];
    layout.shapes.push({type: 'line', xref: 'paper', yref: 'paper', layer: 'above',
      x0: px(lx), x1: px(lx + lineLen), y0: py(ly), y1: py(ly), opacity: op,
      line: {color: colors[i], width: 1.5}});
    layout.annotations.push({xref: 'paper', yref: 'paper', x: px(lx + lineLen + gap), y: py(ly), text: n,
      showarrow: false, xanchor: 'left', yanchor: 'middle', borderpad: 0,
      font: {size: 6.5, family: FONT, color: '#000'}});
  });
}

Plotly.newPlot('chart', traces, layout, {displayModeBar: false, staticPlot: true});
</script>
</body>
</html>
